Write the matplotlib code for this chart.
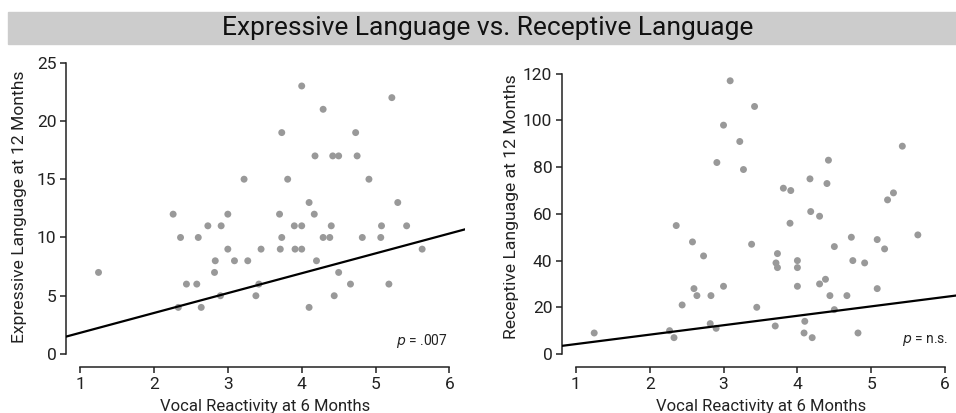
import matplotlib.pyplot as plt
from matplotlib.patches import Rectangle

plt.rcParams['font.family'] = ['Roboto', 'DejaVu Sans']

# vocal reactivity at 6 months (same children in both panels)
vocal_x = [1.25, 2.26, 2.33, 2.36, 2.44, 2.58, 2.60, 2.64, 2.73, 2.82, 2.83, 2.90, 2.91,
           3.00, 3.00, 3.09, 3.22, 3.27, 3.38, 3.42, 3.45, 3.70, 3.71, 3.73, 3.73, 3.81,
           3.90, 3.91, 4.00, 4.00, 4.00, 4.10, 4.10, 4.17, 4.18, 4.20, 4.29, 4.29, 4.38,
           4.40, 4.42, 4.44, 4.50, 4.50, 4.66, 4.73, 4.75, 4.82, 4.91, 5.07, 5.08, 5.18,
           5.22, 5.30, 5.42, 5.63]
expressive = [7, 12, 4, 10, 6, 6, 10, 4, 11, 7, 8, 5, 11,
              12, 9, 8, 15, 8, 5, 6, 9, 12, 9, 19, 10, 15,
              11, 9, 23, 11, 9, 13, 4, 12, 17, 8, 21, 10, 10,
              11, 17, 5, 17, 7, 6, 19, 17, 10, 15, 10, 11, 6,
              22, 13, 11, 9]

receptive_x = [1.25, 2.27, 2.33, 2.36, 2.44, 2.58, 2.60, 2.64, 2.73, 2.82, 2.83, 2.90, 2.91,
               3.00, 3.00, 3.09, 3.22, 3.27, 3.38, 3.42, 3.45, 3.70, 3.71, 3.73, 3.73, 3.81,
               3.90, 3.91, 4.00, 4.00, 4.00, 4.09, 4.10, 4.17, 4.18, 4.20, 4.30, 4.30, 4.38,
               4.40, 4.42, 4.44, 4.50, 4.50, 4.67, 4.73, 4.75, 4.82, 4.91, 5.08, 5.08, 5.18,
               5.22, 5.30, 5.42, 5.63]
receptive = [9, 10, 7, 55, 21, 48, 28, 25, 42, 13, 25, 11, 82,
             98, 29, 117, 91, 79, 47, 106, 20, 12, 39, 43, 37, 71,
             56, 70, 40, 37, 29, 9, 14, 75, 61, 7, 59, 30, 32,
             73, 83, 25, 46, 19, 25, 50, 40, 9, 39, 49, 28, 45,
             66, 69, 89, 51]

# fitted lines (intercept, slope) as drawn
fit_expr = (0.11, 1.705)
fit_rec = (0.2, 4.04)

fig = plt.figure(figsize=(9.56, 4.13), dpi=100)
W, H = 956, 413

fig.patches.append(Rectangle((8 / W, 1 - 44 / H), 1 - 8 / W, 32 / H,
                             transform=fig.transFigure, color='#cccccc', zorder=0))
fig.text(488 / W, 1 - 28 / H, 'Expressive Language vs. Receptive Language',
         ha='center', va='center', fontsize=19, color='#111111')


def panel(rect, xs, ys, fit, ylim, yticks, ylabel, ypad, ptext, pxy):
    ax = fig.add_axes(rect)
    ax.scatter(xs, ys, s=25, color='#999999', edgecolors='none', zorder=2)
    ax.axline((0, fit[0]), slope=fit[1], color='black', lw=1.6, zorder=3)
    ax.set_xlim(0.81, 6.21)
    ax.set_ylim(*ylim)
    ax.set_xticks([1, 2, 3, 4, 5, 6])
    ax.set_yticks(yticks)
    for s in ['top', 'right']:
        ax.spines[s].set_visible(False)
    ax.spines['left'].set_bounds(yticks[0], yticks[-1])
    ax.spines['bottom'].set_bounds(1, 6)
    ax.spines['bottom'].set_position(('outward', 9.5))
    for s in ['left', 'bottom']:
        ax.spines[s].set_linewidth(1.1)
        ax.spines[s].set_color('#222222')
    ax.tick_params(labelsize=12.5, length=4.3, width=1.1, color='#222222', labelcolor='#222222', pad=2.5)
    ax.set_xlabel('Vocal Reactivity at 6 Months', fontsize=12, color='#222222', labelpad=5)
    ax.set_ylabel(ylabel, fontsize=12.6, color='#222222', labelpad=ypad)
    ax.text(pxy[0], pxy[1], ptext, ha='right', va='center', fontsize=10, color='#222222')
    return ax


panel([66 / W, 1 - 354 / H, 399 / W, 294 / H], vocal_x, expressive, fit_expr,
      (0, 25.23), [0, 5, 10, 15, 20, 25], 'Expressive Language at 12 Months', 7,
      '$p$ = .007', (5.98, 1.1))
panel([561.7 / W, 1 - 354 / H, 399 / W, 294 / H], receptive_x, receptive, fit_rec,
      (0, 125.9), [0, 20, 40, 60, 80, 100, 120], 'Receptive Language at 12 Months', 3,
      '$p$ = n.s.', (6.04, 5.6))

fig.savefig('out.png', dpi=100)
